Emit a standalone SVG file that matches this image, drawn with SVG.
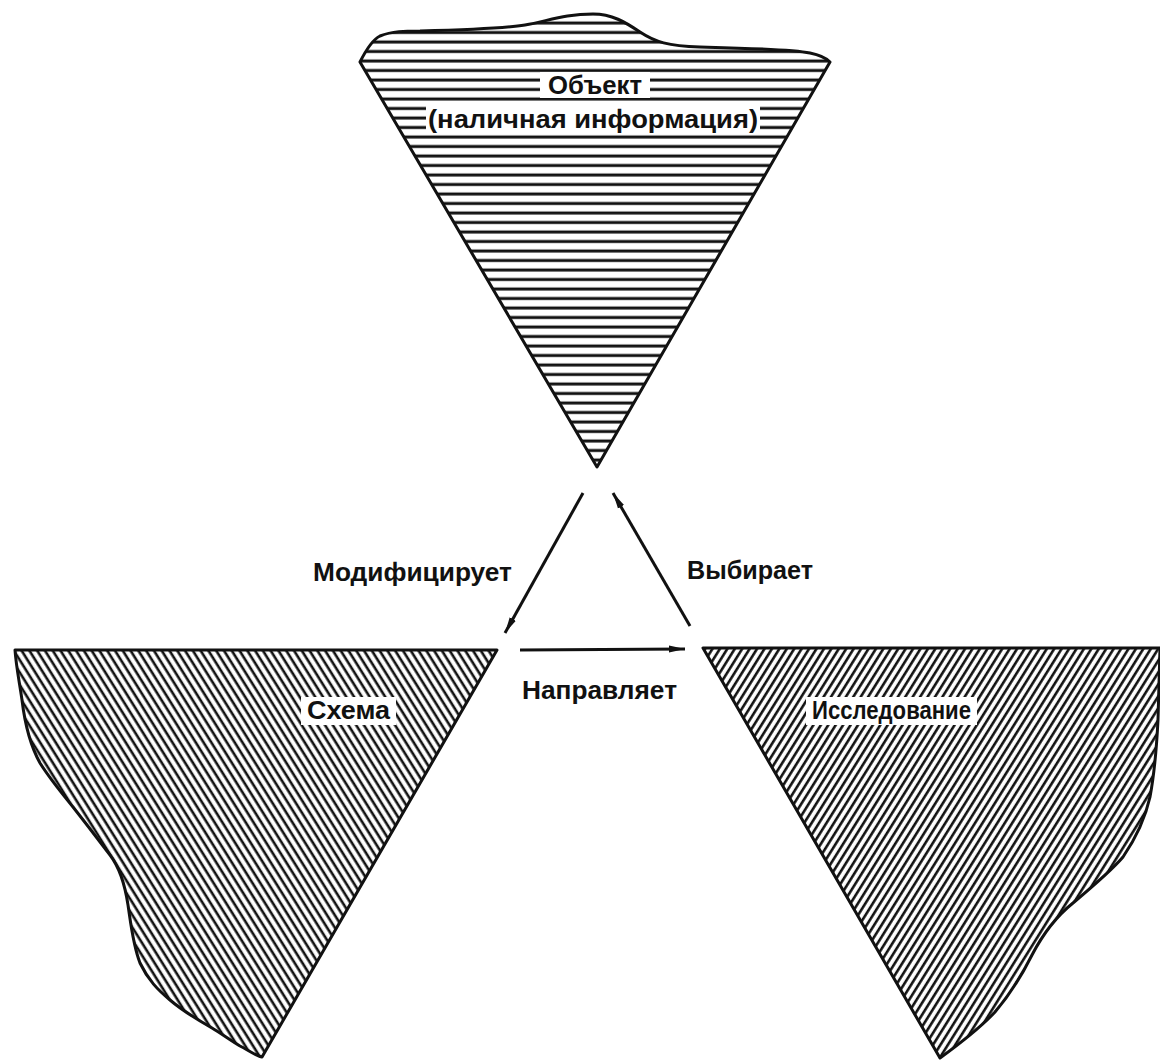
<svg xmlns="http://www.w3.org/2000/svg" width="1160" height="1064" viewBox="0 0 1160 1064">
<style>
.outline{stroke:#111;stroke-width:3;stroke-linejoin:round}
.lbl{font-family:"Liberation Sans",Arial,sans-serif;font-weight:bold;font-size:26px;fill:#111}
.conn{stroke:#111;stroke-width:3;fill:none}
</style>
<defs>
<pattern id="hatchH" patternUnits="userSpaceOnUse" width="20" height="9.5">
<rect width="20" height="9.5" fill="#fff"/>
<line x1="0" y1="4" x2="20" y2="4" stroke="#111" stroke-width="3"/>
</pattern>
<pattern id="hatchBack" patternUnits="userSpaceOnUse" width="20" height="6.6" patternTransform="rotate(58)">
<rect width="20" height="6.6" fill="#fff"/>
<line x1="0" y1="3" x2="20" y2="3" stroke="#111" stroke-width="2.6"/>
</pattern>
<pattern id="hatchFwd" patternUnits="userSpaceOnUse" width="20" height="6.3" patternTransform="rotate(-58)">
<rect width="20" height="6.3" fill="#fff"/>
<line x1="0" y1="3" x2="20" y2="3" stroke="#111" stroke-width="2.6"/>
</pattern>
<marker id="arr" markerUnits="userSpaceOnUse" markerWidth="18" markerHeight="10" refX="16" refY="4" orient="auto">
<path d="M0,0.5 L16,4 L0,7.5 Z" fill="#111"/>
</marker>
</defs>
<rect width="1160" height="1064" fill="#fff"/>

<g id="object">
<path class="outline" fill="url(#hatchH)" d="M360,62 C366,50 372,40 380,36 C392,31 405,31 420,31 C460,30 500,29 525,25 C548,21 565,14 593,14 C612,14 625,22 640,32 C655,42 668,46 700,47 C740,48 790,49 810,53 C820,55 826,58 830,62 L597,467 Z"/>
<rect x="540" y="72" width="110" height="26" fill="#fff"/>
<rect x="426" y="106" width="334" height="27" fill="#fff"/>
<text class="lbl" x="595" y="94" text-anchor="middle" textLength="94" lengthAdjust="spacingAndGlyphs">Объект</text>
<text class="lbl" x="593" y="128" text-anchor="middle" textLength="330" lengthAdjust="spacingAndGlyphs">(наличная информация)</text>
</g>

<g id="scheme">
<path class="outline" fill="url(#hatchBack)" d="M15,650 L497,650 L262,1057 C256,1056 248,1050 240,1046 C230,1040 222,1034 212,1028 C198,1020 184,1012 170,1000 C158,990 148,980 140,963 C133,945 131,925 128,905 C125,885 120,868 110,855 C100,842 88,826 73,807 C60,791 50,779 40,763 C30,745 25,725 22,700 C19,680 16,665 15,650 Z"/>
<rect x="301" y="697" width="95" height="28" fill="#fff"/>
<text class="lbl" x="348.5" y="719" text-anchor="middle" textLength="83" lengthAdjust="spacingAndGlyphs">Схема</text>
</g>

<g id="research">
<path class="outline" fill="url(#hatchFwd)" d="M703,648 L1160,648 L1158,720 C1157,740 1155,770 1150,797 C1146,815 1138,835 1123,857 C1112,870 1098,882 1073,903 C1058,915 1045,930 1032,955 C1022,975 1012,992 995,1012 C980,1028 962,1042 940,1058 Z"/>
<rect x="806" y="697" width="171" height="28" fill="#fff"/>
<text class="lbl" x="891.5" y="719" text-anchor="middle" textLength="159" lengthAdjust="spacingAndGlyphs">Исследование</text>
</g>

<g id="connectors">
<line class="conn" x1="583" y1="493" x2="505" y2="633" marker-end="url(#arr)"/>
<line class="conn" x1="690" y1="626" x2="613" y2="493" marker-end="url(#arr)"/>
<line class="conn" x1="520" y1="650" x2="685" y2="649" marker-end="url(#arr)"/>
<text class="lbl" x="313" y="581" textLength="199" lengthAdjust="spacingAndGlyphs">Модифицирует</text>
<text class="lbl" x="687" y="579" textLength="126" lengthAdjust="spacingAndGlyphs">Выбирает</text>
<text class="lbl" x="522" y="699" textLength="155" lengthAdjust="spacingAndGlyphs">Направляет</text>
</g>
</svg>
